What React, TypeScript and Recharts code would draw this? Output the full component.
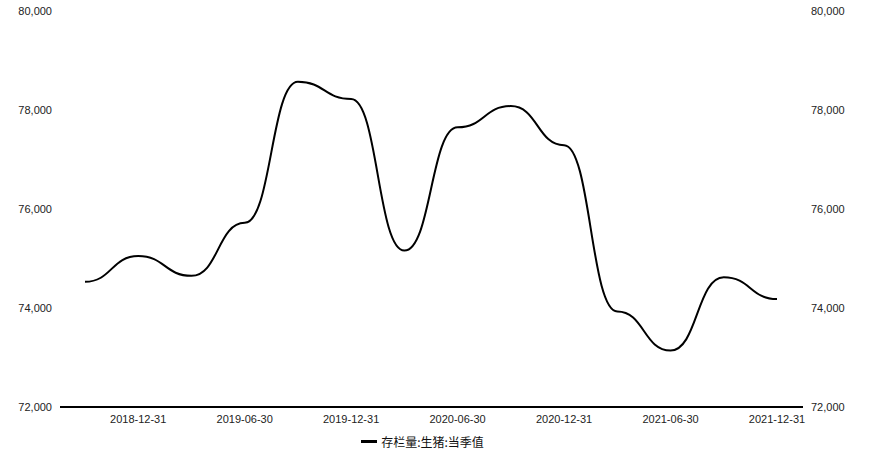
import { LineChart, Line, XAxis, YAxis, Legend } from 'recharts';

const dates = [
  '2018-09-30', '2018-12-31', '2019-03-31', '2019-06-30', '2019-09-30', '2019-12-31', '2020-03-31',
  '2020-06-30', '2020-09-30', '2020-12-31', '2021-03-31', '2021-06-30', '2021-09-30', '2021-12-31',
];
const pigStock = [
  74530, 75050, 74650, 75720, 78570, 78220, 75160,
  77650, 78080, 77290, 73930, 73140, 74620, 74180,
];
const xTicks = ['2018-12-31', '2019-06-30', '2019-12-31', '2020-06-30', '2020-12-31', '2021-06-30', '2021-12-31'];
const yTicks = [72000, 74000, 76000, 78000, 80000];
const seriesName = '存栏量:生猪:当季值';

const data = dates.map((d, i) => ({ date: d, value: pigStock[i] }));

const tickStyle = { fill: '#222', fontSize: 11, fontFamily: '"Liberation Sans", Arial, sans-serif' };

const fmt = (v: number) => v.toLocaleString('en-US');

const LegendContent = () => (
  <div style={{ display: 'flex', justifyContent: 'center', alignItems: 'center', height: 20, paddingRight: 25 }}>
    <span style={{ display: 'inline-block', width: 16, height: 3, background: '#000', marginRight: 4 }} />
    <span style={{ fontSize: 12, color: '#111', fontFamily: '"Noto Sans CJK SC", sans-serif' }}>{seriesName}</span>
  </div>
);

export default function App() {
  return (
    <div style={{ position: 'absolute', left: 0, top: 0, background: '#fff' }}>
      <LineChart width={870} height={461} data={data} margin={{ top: 11, right: 0, left: 0, bottom: 10 }}>
        <XAxis
          dataKey="date"
          ticks={xTicks}
          interval={0}
          padding={{ left: 25, right: 26 }}
          tickLine={false}
          axisLine={{ stroke: '#000', strokeWidth: 2 }}
          tick={tickStyle}
          height={24}
        />
        <YAxis
          yAxisId="left"
          orientation="left"
          width={60}
          domain={[72000, 80000]}
          ticks={yTicks}
          tickFormatter={fmt}
          axisLine={false}
          tickLine={false}
          tick={tickStyle}
        />
        <YAxis
          yAxisId="right"
          orientation="right"
          width={67}
          domain={[72000, 80000]}
          ticks={yTicks}
          tickFormatter={fmt}
          axisLine={false}
          tickLine={false}
          includeHidden
          tick={tickStyle}
        />
        <Legend verticalAlign="bottom" height={20} content={<LegendContent />} />
        <Line
          yAxisId="left"
          type="bumpX"
          dataKey="value"
          name={seriesName}
          stroke="#000"
          strokeWidth={2}
          dot={false}
          isAnimationActive={false}
        />
        {/* mirror series so the right axis gets its ticks; not drawn */}
        <Line
          yAxisId="right"
          dataKey="value"
          hide
          legendType="none"
          isAnimationActive={false}
        />
      </LineChart>
    </div>
  );
}
